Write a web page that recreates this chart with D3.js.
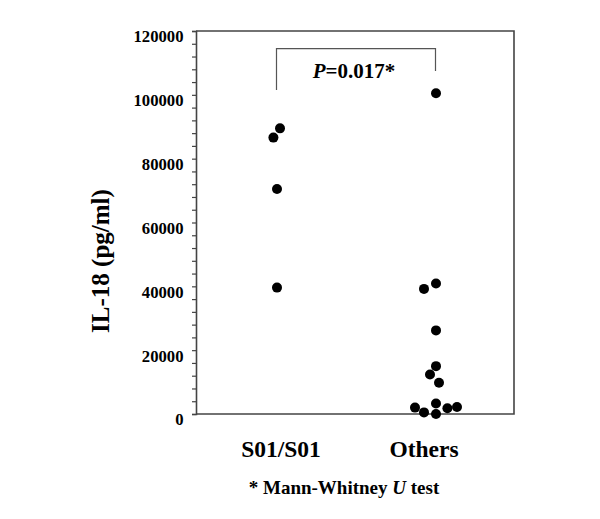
<!DOCTYPE html>
<html>
<head>
<meta charset="utf-8">
<script src="https://cdn.jsdelivr.net/npm/d3@7"></script>
<style>
  html, body { margin: 0; padding: 0; background: #fff; }
  text { font-family: "Liberation Serif", "Times New Roman", serif; font-weight: bold; fill: #000; }
</style>
</head>
<body>
<svg id="chart" width="600" height="519"></svg>
<script>
// ---- data ----
const categories = ["S01/S01", "Others"];
const s01Values  = [89500, 86600, 70500, 39600];
const s01Dodge   = [0.25, -0.3, 0, 0];
const otherValues = [100500, 40900, 39200, 26200, 15000, 12400, 9800, 3300, 2000, 500, 0, 1800, 2200];
const otherDodge  = [0, 0, -1, 0, 0, -0.5, 0.25, 0, -1.75, -1, 0, 0.95, 1.75];
const yTickValues = [0, 20000, 40000, 60000, 80000, 100000, 120000];
const yMinorStep = 4000;
const pLabel = "0.017*";
const yTitle = "IL-18 (pg/ml)";
const footnoteParts = ["* Mann-Whitney ", "U", " test"];

// ---- layout ----
const svg = d3.select("#chart");
const mLeft = 196, mRight = 514, mTop = 31, mBottom = 414;

const y = d3.scaleLinear().domain([0, 120000]).range([mBottom, mTop]);
const x = d3.scalePoint().domain(categories).range([mLeft + 1.5, mRight + 1.5]).padding(0.5);
const dodge = d3.scaleLinear().domain([0, 1]).range([0, 12]);

// frame (top, right, bottom lines)
const frame = svg.append("g").attr("stroke", "#444").attr("stroke-width", 1.6).attr("fill", "none");
frame.append("path").attr("d", `M${mLeft},${mTop}H${mRight}V${mBottom}H${mLeft}`);

// y axis with minor ticks
const minorTicks = d3.range(0, 120000 + 1, yMinorStep);
const yAxis = d3.axisLeft(y).tickValues(minorTicks).tickSize(4)
  .tickFormat(d => yTickValues.includes(d) ? d3.format("d")(d) : "");
const gy = svg.append("g").attr("transform", `translate(${mLeft},0)`).call(yAxis);
gy.select(".domain").attr("stroke", "#444").attr("stroke-width", 1.6);
gy.selectAll(".tick line").attr("stroke", "#444").attr("stroke-width", 1.2);
gy.selectAll(".tick text")
  .attr("x", -12.5).attr("dy", "0.65em")
  .style("font-family", "'Liberation Serif', 'Times New Roman', serif")
  .style("font-weight", "bold").style("font-size", "16.7px").attr("fill", "#000");

// y title
svg.append("text")
  .attr("transform", `translate(109,${261}) rotate(-90)`)
  .attr("text-anchor", "middle")
  .style("font-size", "25px")
  .text(yTitle);

// x category labels
const labelShift = {"S01/S01": 4, "Others": -12};
svg.append("g").selectAll("text").data(categories).join("text")
  .attr("x", d => x(d) + labelShift[d])
  .attr("y", 457)
  .attr("text-anchor", "middle")
  .style("font-size", "23.5px")
  .text(d => d);

// points
const pts = [];
s01Values.forEach((v, i) => pts.push({cat: categories[0], v, dg: s01Dodge[i]}));
otherValues.forEach((v, i) => pts.push({cat: categories[1], v, dg: otherDodge[i]}));
svg.append("g").selectAll("circle").data(pts).join("circle")
  .attr("cx", d => x(d.cat) + dodge(d.dg))
  .attr("cy", d => y(d.v))
  .attr("r", 5)
  .attr("fill", "#000");

// significance bracket
const bx1 = x(categories[0]) - 0.5, bx2 = x(categories[1]) - 0.5;
svg.append("path")
  .attr("d", `M${bx1},${y(101500)}V${y(114500)}H${bx2}V${y(107500)}`)
  .attr("fill", "none").attr("stroke", "#555").attr("stroke-width", 1.2);
const pt = svg.append("text")
  .attr("x", (bx1 + bx2) / 2 - 2).attr("y", 78)
  .attr("text-anchor", "middle")
  .style("font-size", "21px");
pt.append("tspan").style("font-style", "italic").text("P");
pt.append("tspan").text("=" + pLabel);

// footnote
const fn = svg.append("text")
  .attr("x", 344).attr("y", 494)
  .attr("text-anchor", "middle")
  .style("font-size", "19px");
fn.append("tspan").text(footnoteParts[0]);
fn.append("tspan").style("font-style", "italic").text(footnoteParts[1]);
fn.append("tspan").text(footnoteParts[2]);
</script>
</body>
</html>
